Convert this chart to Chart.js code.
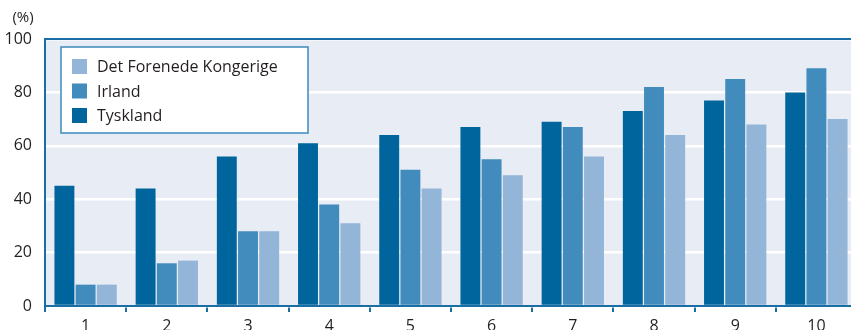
<!DOCTYPE html>
<html>
<head>
<meta charset="utf-8">
<script src="https://cdn.jsdelivr.net/npm/chart.js@4.4.0/dist/chart.umd.min.js"></script>
<style>
  html, body { margin: 0; padding: 0; background: #fff; overflow: hidden; }
  #wrap { position: relative; width: 860px; height: 345px; }
</style>
</head>
<body>
<div id="wrap"><canvas id="incomeChart"></canvas></div>
<script>
const categories = ['1', '2', '3', '4', '5', '6', '7', '8', '9', '10'];
const yTicks = [0, 20, 40, 60, 80, 100];

const tyskland = [45, 44, 56, 61, 64, 67, 69, 73, 77, 80];
const irland = [8, 16, 28, 38, 51, 55, 67, 82, 85, 89];
const forenedeKongerige = [8, 17, 28, 31, 44, 49, 56, 64, 68, 70];

const FONT = '"Open Sans", "Noto Sans", sans-serif';
const AXIS_BLUE = '#1a6ea6';

// plot background, top border, "(%)" label and the boxed legend
const decorations = {
  id: 'decorations',
  beforeDraw(chart) {
    const { ctx, chartArea: a } = chart;
    ctx.save();
    ctx.fillStyle = '#e8ecf5';
    ctx.fillRect(a.left, a.top, a.right - a.left, a.bottom - a.top);
    ctx.restore();
  },
  afterDraw(chart) {
    const { ctx, chartArea: a } = chart;
    ctx.save();
    ctx.strokeStyle = AXIS_BLUE;
    ctx.lineWidth = 2;
    ctx.beginPath();
    ctx.moveTo(a.left - 1, a.top);
    ctx.lineTo(a.right, a.top);
    ctx.stroke();

    ctx.fillStyle = '#231f20';
    ctx.font = '15px ' + FONT;
    ctx.textAlign = 'center';
    ctx.textBaseline = 'middle';
    ctx.fillText('(%)', 23, 18);

    // legend box, listed in reverse dataset order
    const bx = a.left + 16, by = a.top + 8, bw = 247, bh = 86;
    ctx.fillStyle = '#ffffff';
    ctx.fillRect(bx, by, bw, bh);
    ctx.strokeStyle = '#3d89bb';
    ctx.lineWidth = 1.5;
    ctx.strokeRect(bx, by, bw, bh);

    const sets = chart.data.datasets.slice().reverse();
    ctx.font = '16px ' + FONT;
    ctx.textAlign = 'left';
    sets.forEach((ds, i) => {
      const cy = by + 19.5 + i * 24.5;
      ctx.fillStyle = ds.backgroundColor;
      ctx.fillRect(bx + 11, cy - 7.5, 15, 15);
      ctx.fillStyle = '#231f20';
      ctx.fillText(ds.label, bx + 36, cy + 1);
    });
    ctx.restore();
  }
};

new Chart(document.getElementById('incomeChart'), {
  type: 'bar',
  data: {
    labels: categories,
    datasets: [
      { label: 'Tyskland', data: tyskland, backgroundColor: '#00659c' },
      { label: 'Irland', data: irland, backgroundColor: '#418cbd' },
      { label: 'Det Forenede Kongerige', data: forenedeKongerige, backgroundColor: '#93b5d7' }
    ]
  },
  options: {
    responsive: true,
    maintainAspectRatio: false,
    animation: false,
    events: [],
    layout: { padding: { top: 39, left: 0, right: 3, bottom: 0 } },
    datasets: { bar: { categoryPercentage: 0.783, barPercentage: 0.94, borderWidth: 0 } },
    plugins: { legend: { display: false }, tooltip: { enabled: false } },
    scales: {
      x: {
        offset: true,
        afterFit: s => { s.height = 39; },
        grid: {
          offset: true,
          drawOnChartArea: false,
          drawTicks: true,
          tickLength: 6,
          color: AXIS_BLUE,
          lineWidth: 2
        },
        border: { display: true, color: AXIS_BLUE, width: 2 },
        ticks: { color: '#231f20', font: { family: FONT, size: 16 }, padding: 5, maxRotation: 0 }
      },
      y: {
        min: 0,
        max: 100,
        afterFit: s => { s.width = 45; },
        afterBuildTicks: s => { s.ticks = yTicks.map(v => ({ value: v })); },
        grid: { color: '#ffffff', lineWidth: 2.5, drawTicks: false },
        border: { display: true, color: AXIS_BLUE, width: 2 },
        ticks: { color: '#231f20', font: { family: FONT, size: 16 }, padding: 13 }
      }
    }
  },
  plugins: [decorations]
});
</script>
</body>
</html>
